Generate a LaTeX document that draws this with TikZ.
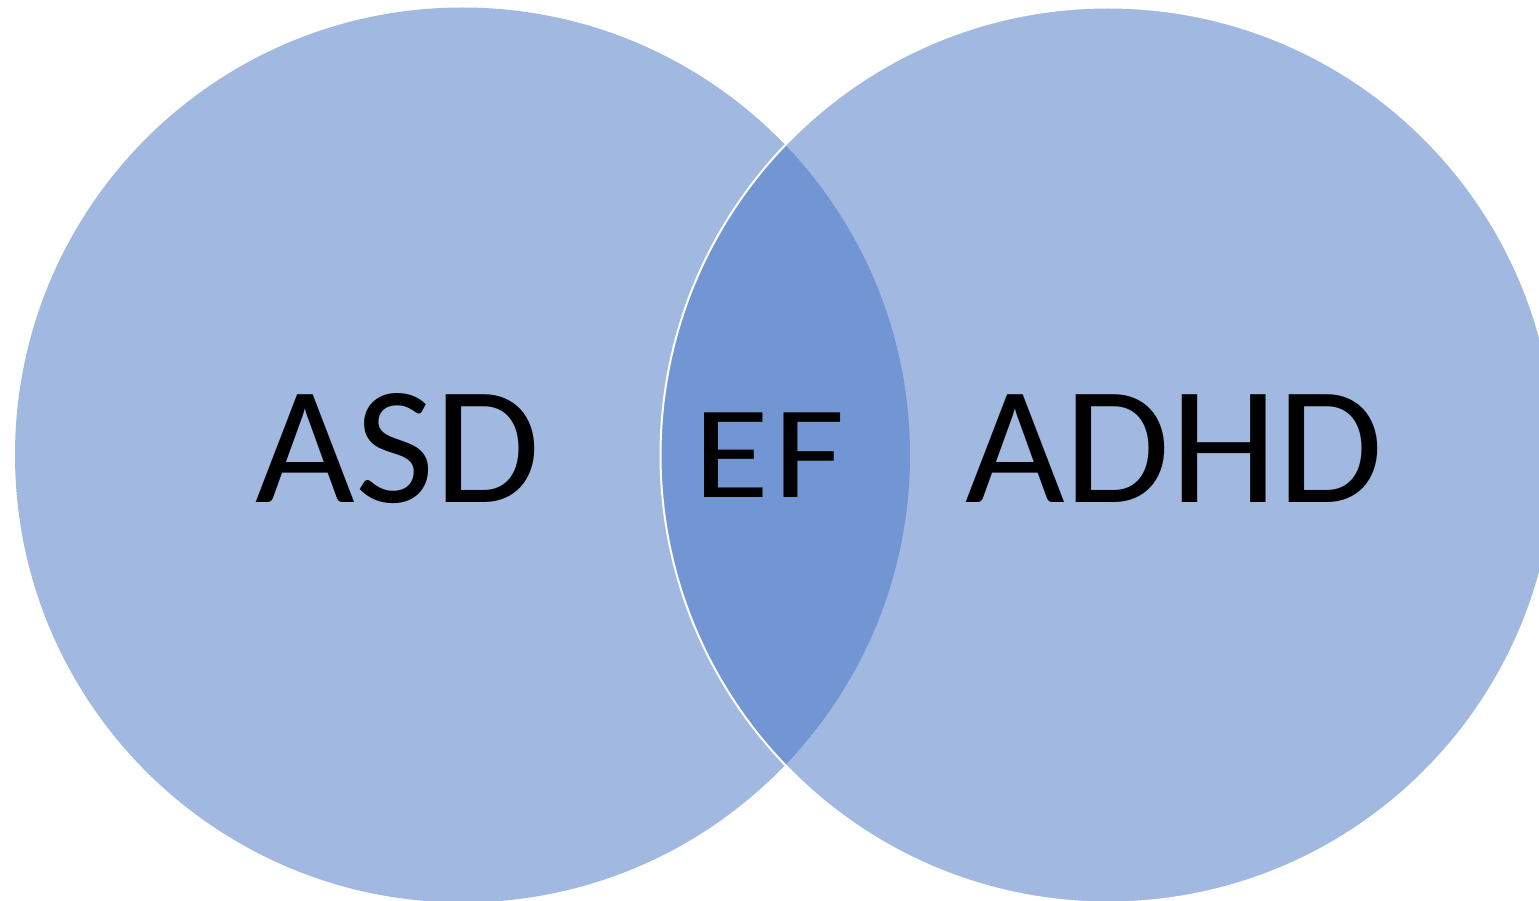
\documentclass[tikz,border=0pt]{standalone}
\usepackage{fontspec}
\setmainfont{Carlito}
\definecolor{vennblue}{HTML}{4472C4}
\begin{document}
\begin{tikzpicture}[x=1pt,y=1pt,
  setcircle/.style={circle, minimum size=895pt, inner sep=0pt, fill=vennblue, fill opacity=0.5},
  biglabel/.style={anchor=base, font=\fontsize{168}{168}\selectfont, text=black, inner sep=0pt, xscale=1.025, transform shape},
  smalllabel/.style={anchor=base, font=\fontsize{132}{132}\selectfont, text=black, inner sep=0pt, xscale=1.18, transform shape}]
\useasboundingbox (0,0) rectangle (1539,-901);
\clip (0,0) rectangle (1539,-901);
\node[setcircle] (asd) at (462.5,-455) {};
\node[setcircle, draw=white, line width=2pt] (adhd) at (1108,-455) {};
\node[biglabel] (asdtext) at (398,-502) {ASD};
\node[smalllabel] (eftext) at (769.5,-497) {E\hspace{3pt}F};
\node[biglabel] (adhdtext) at (1174.5,-502) {ADHD};
\end{tikzpicture}
\end{document}
